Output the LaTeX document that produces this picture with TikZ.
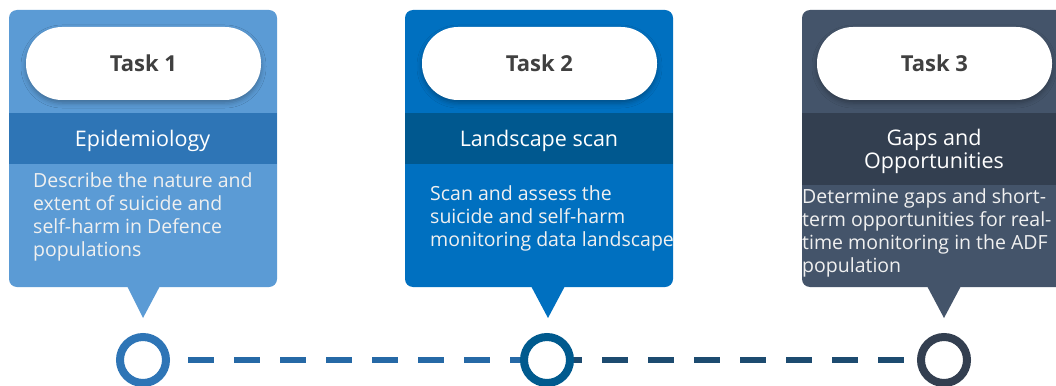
\documentclass[tikz,border=0pt]{standalone}
\usepackage{fontspec}
\setmainfont{Open Sans}
\usetikzlibrary{shadows.blur}
\definecolor{cardA}{HTML}{5B9BD5}
\definecolor{bandA}{HTML}{2E75B6}
\definecolor{cardB}{HTML}{0070C0}
\definecolor{bandB}{HTML}{00588F}
\definecolor{cardC}{HTML}{44546A}
\definecolor{bandC}{HTML}{333F50}
\definecolor{taskgray}{HTML}{404040}
\definecolor{bodygray}{HTML}{F0F0F0}
\definecolor{ringA}{HTML}{2E75B6}
\definecolor{ringB}{HTML}{005A8E}
\definecolor{ringC}{HTML}{333F50}
\definecolor{lineA}{HTML}{2669A6}
\definecolor{lineB}{HTML}{1D4B70}

\begin{document}
\begin{tikzpicture}[x=1pt,y=-1pt,
  pill/.style={fill=white, rounded corners=36pt, minimum width=235pt,
    minimum height=73pt, inner sep=0pt, text=taskgray,
    font=\fontsize{22}{26}\selectfont\bfseries,
    blur shadow={shadow xshift=0pt, shadow yshift=-3pt,
      shadow opacity=30, shadow blur radius=5pt}},
  % anchors below sit on the baseline of the last line of each text
  bandtext/.style={text=white, font=\fontsize{21.5}{23}\selectfont,
    align=center, inner sep=0pt, anchor=base},
  bodytext/.style={text=bodygray, font=\fontsize{19.5}{23}\selectfont,
    align=left, anchor=base west, inner sep=0pt},
  ring/.style={circle, draw=#1, line width=8pt, fill=white,
    minimum size=46pt, inner sep=0pt},
  dashline/.style={line width=6pt, dash pattern=on 26pt off 20pt}
]
\clip (0,0) rectangle (1056,385);
\fill[white] (0,0) rectangle (1056,385);

% ---- card 1 ----
\fill[cardA, rounded corners=8pt] (9,10) rectangle (277,287);
\fill[cardA] (127,286) -- (160,286) -- (143,318) -- cycle;
\fill[bandA] (9,113) rectangle (277,164);
\node[pill] (p1) at (143.5,63.5) {Task 1};
\node[bandtext] (b1) at (142.5,146) {Epidemiology};
\node[bodytext] (d1) at (33,256)
  {Describe the nature and\\extent of suicide and\\self-harm in Defence\\populations};

% ---- card 2 ----
\fill[cardB, rounded corners=8pt] (405,10) rectangle (673,287);
\fill[cardB] (531,286) -- (565,286) -- (548,318) -- cycle;
\fill[bandB] (405,113) rectangle (673,164);
\node[pill] (p2) at (539.5,63.5) {Task 2};
\node[bandtext] (b2) at (539,146) {Landscape scan};
\node[bodytext] (d2) at (430,246)
  {Scan and assess the\\suicide and self-harm\\monitoring data landscape};

% ---- card 3 ----
\fill[cardC, rounded corners=8pt] (802,10) rectangle (1070,287);
\fill[cardC] (927,286) -- (961,286) -- (944,318) -- cycle;
\fill[bandC] (802,113) rectangle (1070,185);
\node[pill] (p3) at (934.5,63.5) {Task 3};
\node[bandtext] (b3) at (934,168) {Gaps and\\Opportunities};
\node[bodytext] (d3) at (802,272)
  {Determine gaps and short-\\term opportunities for real-\\time monitoring in the ADF\\population};

% ---- timeline ----
\coordinate (c1) at (143,360);
\coordinate (c2) at (547,360);
\coordinate (c3) at (944,360);
\draw[dashline, draw=lineA, shorten <=45pt] (c1) -- (c2);
\draw[dashline, draw=lineB, dash phase=37pt, shorten >=39pt] (c2) -- (c3);
\node[ring=ringA] (r1) at (c1) {};
\node[ring=ringB] (r2) at (c2) {};
\node[ring=ringC] (r3) at (c3) {};
\end{tikzpicture}
\end{document}
